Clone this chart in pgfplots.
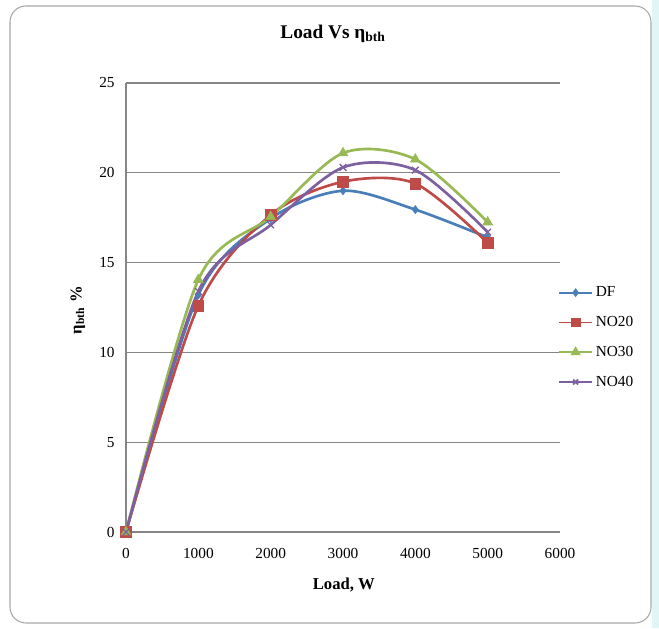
\documentclass[border=0pt]{standalone}
\usepackage{fontspec}
\setmainfont{Liberation Serif}
\usepackage{pgfplots}
\pgfplotsset{compat=1.18}
\definecolor{cDF}{HTML}{4A7EBB}
\definecolor{cN20}{HTML}{BE4B48}
\definecolor{cN30}{HTML}{98B954}
\definecolor{cN40}{HTML}{7D60A0}
\definecolor{axgray}{HTML}{868686}
\definecolor{frame}{HTML}{A8A8A8}
\definecolor{strip}{HTML}{E2F5F6}
\begin{document}
\begin{tikzpicture}
\useasboundingbox (0,0) rectangle (494.25pt,471pt);
\fill[white] (0,0) rectangle (494.25pt,471pt);
\fill[strip] (489pt,0) rectangle (494.25pt,471pt);
\draw[frame, line width=0.8pt, rounded corners=12pt, fill=white] (7.5pt,3.75pt) rectangle (488.25pt,466.5pt);
\begin{axis}[
  at={(94.5pt,72pt)}, anchor=south west,
  scale only axis, width=325.5pt, height=336.75pt,
  xmin=0, xmax=6000, ymin=0, ymax=25,
  xtick={0,1000,...,6000}, ytick={0,5,...,25},
  axis x line*=bottom, axis y line*=left,
  axis line style={axgray, line width=0.8pt, -},
  ymajorgrids, grid style={axgray, line width=0.8pt},
  major tick length=0pt,
  /pgf/number format/assume math mode=true,
  /pgf/number format/set thousands separator={},
  ticklabel style={font=\fontsize{11.5}{13}\selectfont},
  yticklabel style={xshift=-5pt},
  xticklabel style={yshift=-8.5pt},
  title={\textbf{Load Vs η\textsubscript{bth}}},
  title style={at={(0.477,1.092)}, anchor=center, font=\fontsize{14.5}{16}\selectfont},
  xlabel={\textbf{Load, W}},
  xlabel style={at={(0.502,-0.118)}, anchor=center, font=\fontsize{12.5}{14}\selectfont},
  ylabel={\textbf{η\textsubscript{bth} \%}},
  ylabel style={at={(-0.111,0.494)}, anchor=center, font=\fontsize{12.5}{14}\selectfont},
  clip=false,
  legend style={at={(0.995,0.553)}, anchor=north west, draw=none, fill=none,
    font=\fontsize{11.5}{13}\selectfont, row sep=9.2pt, inner sep=0pt},
  legend cell align=left,
  legend image code/.code={\draw[line width=1.3pt, mark repeat=2,mark phase=2, mark options={scale=0.75}] plot coordinates {(0pt,0pt) (12.5pt,0pt) (25pt,0pt)};},
  every axis plot/.append style={line width=2pt, smooth, tension=0.5},
]
\addplot[cDF, mark=diamond*, mark size=3pt, mark options={solid, line width=0.5pt}] coordinates {
  (0,0) (1000,13.2) (2000,17.45) (3000,19.0) (4000,17.95) (5000,16.4)};
\addlegendentry{DF}
\addplot[cN20, mark=square*, mark size=4pt, mark options={solid, line width=0.5pt}] coordinates {
  (0,0) (1000,12.6) (2000,17.65) (3000,19.5) (4000,19.4) (5000,16.1)};
\addlegendentry{NO20}
\addplot[cN30, mark=triangle*, mark size=4.2pt, mark options={solid, line width=0.5pt}] coordinates {
  (0,0) (1000,14.05) (2000,17.55) (3000,21.1) (4000,20.75) (5000,17.25)};
\addlegendentry{NO30}
\addplot[cN40, mark=x, mark size=3.5pt, mark options={solid, line width=1pt}] coordinates {
  (0,0) (1000,13.4) (2000,17.1) (3000,20.3) (4000,20.15) (5000,16.7)};
\addlegendentry{NO40}
\end{axis}
\end{tikzpicture}
\end{document}
